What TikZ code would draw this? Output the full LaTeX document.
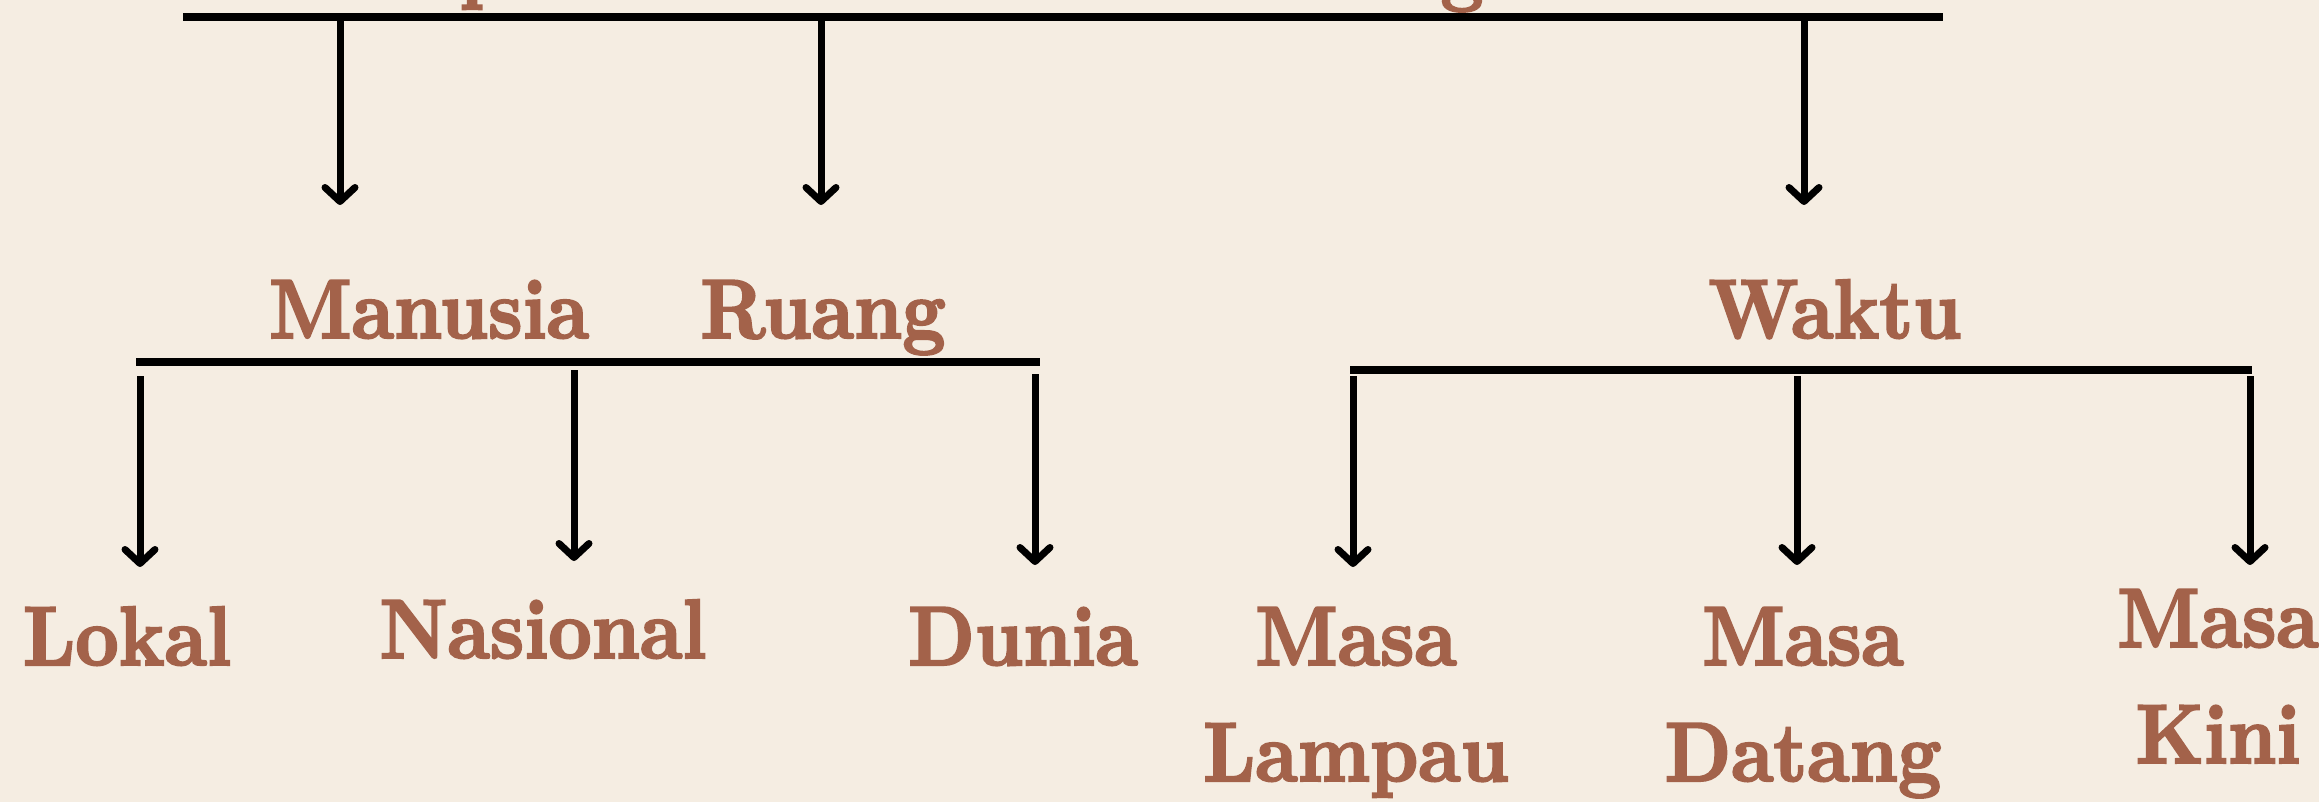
\documentclass[tikz,border=0pt]{standalone}
\usepackage{fontspec}
\usetikzlibrary{arrows.meta}
\newfontfamily\heavyfont{lmroman10-bold.otf}[FakeBold=2.5]
\definecolor{paper}{HTML}{F5EDE2}
\definecolor{rust}{HTML}{A3624A}
\newcommand{\lblfont}{\heavyfont\fontsize{84}{116}\selectfont}
\newcommand{\twolines}[2]{\vtop{\halign{\hfil##\hfil\cr #1\cr #2\cr}}}
\tikzset{
  lbl/.style={anchor=base, inner sep=0pt, text=rust, font=\lblfont, xscale=0.9, transform shape},
  bar/.style={line width=8pt, draw=black},
  arr/.style={line width=7pt, draw=black, -{Straight Barb[round, length=14pt, width=30pt]}}
}
\begin{document}
\begin{tikzpicture}[x=1pt, y=-1pt]
\useasboundingbox (0,0) rectangle (2319,802);
\fill[paper] (0,0) rectangle (2319,802);
\clip (0,0) rectangle (2319,802);

% partially visible title glyphs
\node[lbl] (tp) at (484,-7) {p};
\node[lbl] (tg) at (1462,-5) {g};

% top bar
\coordinate (b0l) at (183,17.5);
\coordinate (b0r) at (1943,17.5);
\draw[bar] (b0l) -- (b0r);
\coordinate (s1) at (340,17.5);  \coordinate (e1) at (340,205);
\coordinate (s2) at (821,17.5);  \coordinate (e2) at (821,205);
\coordinate (s3) at (1804,17.5); \coordinate (e3) at (1804,205);
\draw[arr] (s1) -- (e1);
\draw[arr] (s2) -- (e2);
\draw[arr] (s3) -- (e3);

% level 2 labels
\node[lbl] (manusia) at (429,338) {Manusia};
\node[lbl] (ruang) at (823,338) {Ruang};
\node[lbl] (waktu) at (1835,338) {Waktu};

% left bar
\coordinate (b1l) at (136,362);
\coordinate (b1r) at (1040,362);
\draw[bar] (b1l) -- (b1r);
\coordinate (s4) at (140,376);  \coordinate (e4) at (140,567);
\coordinate (s5) at (574,370);  \coordinate (e5) at (574,561);
\coordinate (s6) at (1035,374); \coordinate (e6) at (1035,565);
\draw[arr] (s4) -- (e4);
\draw[arr] (s5) -- (e5);
\draw[arr] (s6) -- (e6);

% right bar
\coordinate (b2l) at (1350,370);
\coordinate (b2r) at (2252,370);
\draw[bar] (b2l) -- (b2r);
\coordinate (s7) at (1353,376); \coordinate (e7) at (1353,567);
\coordinate (s8) at (1797,376); \coordinate (e8) at (1797,565);
\coordinate (s9) at (2250,376); \coordinate (e9) at (2250,565);
\draw[arr] (s7) -- (e7);
\draw[arr] (s8) -- (e8);
\draw[arr] (s9) -- (e9);

% level 3 labels
\node[lbl] (lokal) at (127,665) {Lokal};
\node[lbl] (nasional) at (543,658) {Nasional};
\node[lbl] (dunia) at (1023,665) {Dunia};
\node[lbl] (lampau) at (1356,665) {\twolines{Masa}{Lampau}};
\node[lbl] (datang) at (1803,665) {\twolines{Masa}{Datang}};
\node[lbl] (kini) at (2218,647) {\twolines{Masa}{Kini}};
\end{tikzpicture}
\end{document}
